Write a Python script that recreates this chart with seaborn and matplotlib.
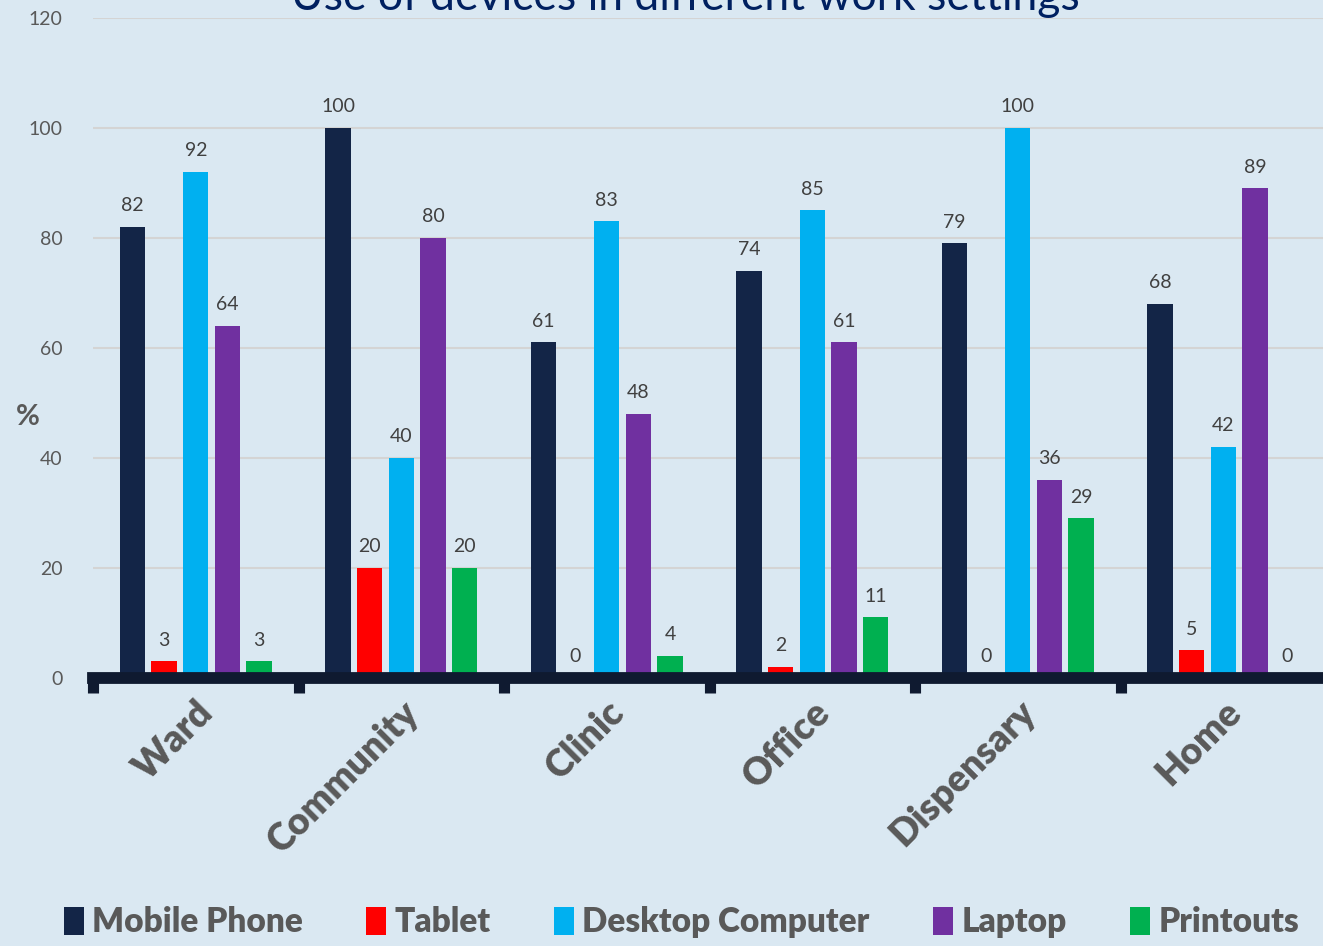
import pandas as pd
import seaborn as sns
import matplotlib.pyplot as plt

# Datos
settings = ['Ward', 'Community', 'Clinic', 'Office', 'Dispensary', 'Home']
devices = ['Mobile Phone', 'Tablet', 'Desktop Computer', 'Laptop', 'Printouts']
mobile_phone = [82, 100, 61, 74, 79, 68]
tablet = [3, 20, 0, 2, 0, 5]
desktop = [92, 40, 83, 85, 100, 42]
laptop = [64, 80, 48, 61, 36, 89]
printouts = [3, 20, 4, 11, 29, 0]
colores = ['#132547', '#ff0000', '#00b0f0', '#7030a0', '#00b050']

valores = [mobile_phone, tablet, desktop, laptop, printouts]
filas = []
for dev, vals in zip(devices, valores):
    for s, v in zip(settings, vals):
        filas.append({'setting': s, 'device': dev, 'pct': v})
df = pd.DataFrame(filas)

sns.set_style('white')
plt.rcParams['font.family'] = ['Lato', 'DejaVu Sans']
fondo = '#dae8f2'
gris = '#595959'

fig = plt.figure(figsize=(13.23, 9.46), dpi=100, facecolor=fondo)
ax = fig.add_axes([0.0703, 0.2833, 0.932, 0.6977], facecolor=fondo)

sns.barplot(data=df, x='setting', y='pct', hue='device', order=settings,
            hue_order=devices, palette=colores, width=0.77, gap=0.2,
            saturation=1, linewidth=0, ax=ax, legend=True)

for cont in ax.containers:
    ax.bar_label(cont, padding=9, fontsize=14, color='#404040')

ax.set_ylim(0, 120)
ax.set_xlim(-0.5, 5.5)
ax.set_yticks(range(0, 121, 20))
ax.yaxis.grid(True, color='#d4d4d4', linewidth=1.5)
ax.set_axisbelow(True)
for lado in ['left', 'right', 'top']:
    ax.spines[lado].set_visible(False)
ax.spines['bottom'].set_color('#0f1a30')
ax.spines['bottom'].set_linewidth(8.5)
ax.spines['bottom'].set_zorder(5)

ax.tick_params(axis='y', length=0, pad=22, labelsize=14, labelcolor=gris)
ax.tick_params(axis='x', which='major', length=0, pad=12)
ax.set_xticks([i - 0.5 for i in range(6)], minor=True)
ax.tick_params(axis='x', which='minor', bottom=True, length=11, width=8,
               color='#0f1a30', direction='out')
ax.set_xticklabels(settings, rotation=45, ha='right', rotation_mode='anchor',
                   fontsize=27, fontweight='heavy', color=gris)

ax.set_xlabel('')
ax.set_ylabel('%', rotation=0, fontsize=21, fontweight='bold', color=gris)
ax.yaxis.set_label_coords(-0.053, 0.375)

ax.legend(loc='center', bbox_to_anchor=(0.515, 0.025), bbox_transform=fig.transFigure,
          ncol=5, frameon=False, handlelength=0.6, handleheight=0.9,
          handletextpad=0.25, columnspacing=1.9,
          prop={'weight': 'heavy', 'size': 24})
for t in ax.get_legend().get_texts():
    t.set_color(gris)

fig.text(0.518, 0.989, 'Use of devices in different work settings', ha='center',
         va='baseline', fontsize=32, color='#002060')

fig.savefig('out.png', dpi=100, facecolor=fondo)
